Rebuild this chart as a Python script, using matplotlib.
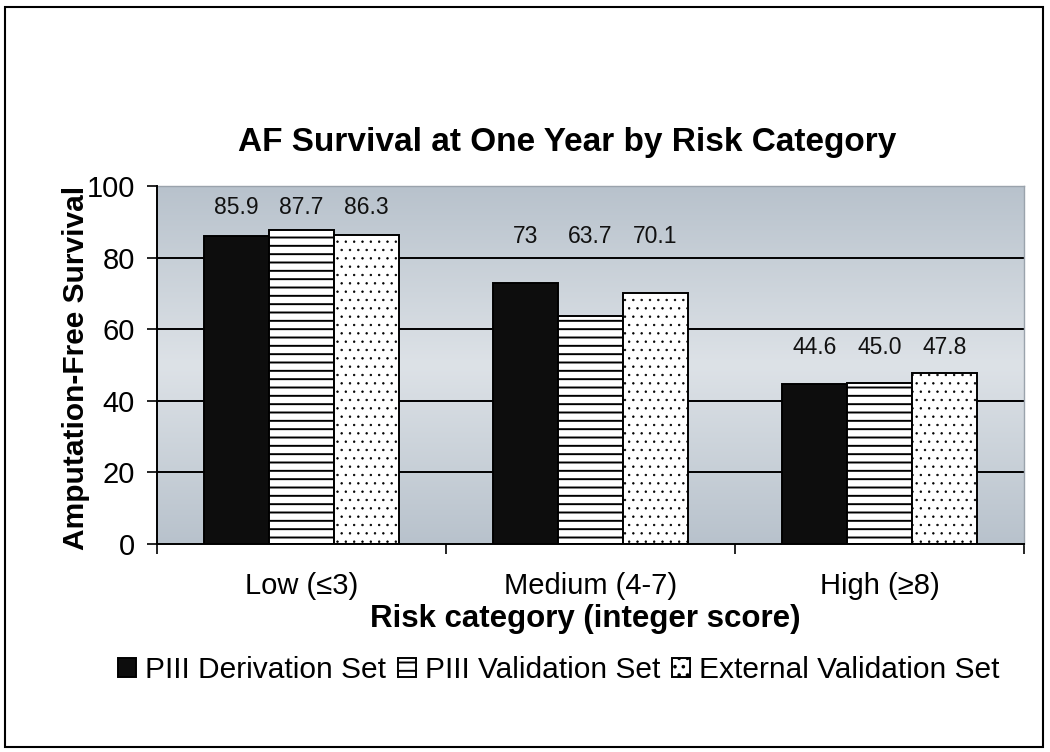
import matplotlib
matplotlib.use("Agg")
import matplotlib.pyplot as plt
import numpy as np
from matplotlib.colors import LinearSegmentedColormap
from matplotlib.patches import Rectangle

plt.rcParams['font.family'] = ['Liberation Sans', 'DejaVu Sans']
plt.rcParams['hatch.linewidth'] = 1.4

categories = ["Low (\u22643)", "Medium (4-7)", "High (\u22658)"]
series_names = ["PIII Derivation Set", "PIII Validation Set", "External Validation Set"]
derivation = [85.9, 73.0, 44.6]
validation = [87.7, 63.7, 45.0]
external = [86.3, 70.1, 47.8]
derivation_labels = ["85.9", "73", "44.6"]
validation_labels = ["87.7", "63.7", "45.0"]
external_labels = ["86.3", "70.1", "47.8"]
yticks = [0, 20, 40, 60, 80, 100]

title = "AF Survival at One Year by Risk Category"
xlabel = "Risk category (integer score)"
ylabel = "Amputation-Free Survival"

fig = plt.figure(figsize=(10.5, 7.52), dpi=100)
fig.patch.set_facecolor('white')

# outer border
fig.add_artist(Rectangle((5/1050, 1-747/752), (1043-5)/1050, (747-7)/752,
                         transform=fig.transFigure, fill=False,
                         edgecolor='black', linewidth=1.5))

ax = fig.add_axes([157/1050, 1-544/752, (1024-157)/1050, (544-186)/752])

# gradient background
cmap = LinearSegmentedColormap.from_list('bg', ['#dde2e7', '#b8c2cc'])
yy = np.linspace(0, 100, 400)
grad = np.abs(yy - 50) / 50.0
ax.imshow(grad[:, None], aspect='auto', cmap=cmap, extent=[0, 3, 0, 100],
          origin='lower', vmin=0, vmax=1, zorder=0, interpolation='bilinear')

for v in yticks[1:-1]:
    ax.axhline(v, color='black', linewidth=1.4, zorder=1)

x = np.arange(len(categories)) + 0.5
w = 0.225
series = [derivation, validation, external]
labels = [derivation_labels, validation_labels, external_labels]
styles = [dict(facecolor='#0d0d0d', hatch=None),
          dict(facecolor='white', hatch='--'),
          dict(facecolor='white', hatch='..')]
handles = []
for i, (vals, st) in enumerate(zip(series, styles)):
    bars = ax.bar(x + (i - 1) * w, vals, width=w, edgecolor='black',
                  linewidth=1.4, zorder=2, label=series_names[i], **st)
    if i == 2:
        for p in bars.patches:
            if hasattr(p, 'set_hatch_linewidth'):
                p.set_hatch_linewidth(0.5)
    handles.append(bars)

# value labels (placed per group at a common height, as in the source)
label_y = [94, 86, 55]
for i in range(3):
    for j in range(3):
        ax.text(x[j] + (i - 1) * w, label_y[j], labels[i][j], ha='center',
                va='center', fontsize=16.5, color='#111111', zorder=3)

ax.set_xlim(0, 3)
ax.set_ylim(0, 100)
ax.set_yticks(yticks)
ax.set_yticklabels([str(t) for t in yticks], fontsize=21)
ax.tick_params(axis='y', length=7, width=1.2, pad=9, direction='out')
ax.set_xticks([0, 1, 2, 3])
ax.set_xticklabels([])
ax.tick_params(axis='x', which='major', length=7, width=1.2, direction='out')
ax.set_xticks(x, minor=True)
ax.set_xticklabels(categories, minor=True, fontsize=21)
ax.tick_params(axis='x', which='minor', length=0, pad=20)

for s in ['left', 'bottom']:
    ax.spines[s].set_color('black')
    ax.spines[s].set_linewidth(1.4)
for s in ['top', 'right']:
    ax.spines[s].set_color('#9aa3ac')
    ax.spines[s].set_linewidth(1.0)
ax.spines['left'].set_zorder(4)
ax.spines['bottom'].set_zorder(4)

fig.text(567/1050, 1-143/752, title, ha='center', va='center',
         fontsize=24, fontweight='bold')
fig.text(585/1050, 1-619/752, xlabel, ha='center', va='center',
         fontsize=22.5, fontweight='bold')
fig.text(76/1050, 1-368/752, ylabel, ha='center', va='center',
         fontsize=21.5, fontweight='bold', rotation=90)

leg = fig.legend(handles=handles, labels=series_names, loc='center',
                 bbox_to_anchor=(559/1050, 1-670/752), ncol=3, frameon=False,
                 fontsize=21.5, handlelength=0.6, handleheight=0.6,
                 handletextpad=0.3, columnspacing=0.4, borderpad=0)

fig.savefig('out.png', dpi=100, facecolor='white')
